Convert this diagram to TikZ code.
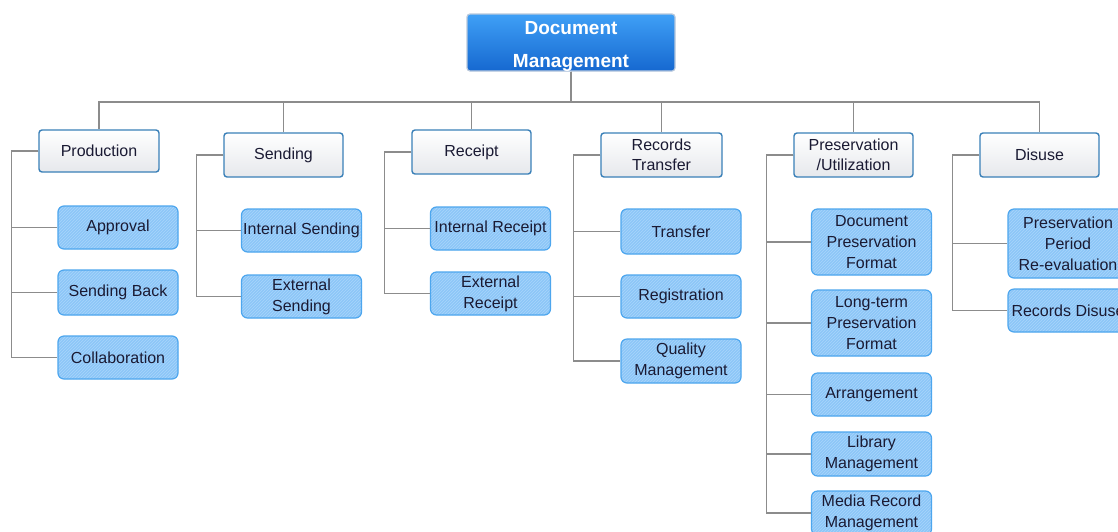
\documentclass[tikz,border=0pt]{standalone}
\usepackage{fontspec}
\setmainfont{Liberation Sans}
\usetikzlibrary{patterns}
\definecolor{rootTop}{HTML}{3FA0F6}
\definecolor{rootBot}{HTML}{1668D0}
\definecolor{rootEdge}{HTML}{B8C8DC}
\definecolor{catEdge}{HTML}{3A80B8}
\definecolor{catBot}{HTML}{E6E8EC}
\definecolor{itemFill}{HTML}{8CC6F7}
\definecolor{itemHatch}{HTML}{A9D5FB}
\definecolor{itemEdge}{HTML}{4DA6EE}
\definecolor{inkText}{HTML}{1A1A33}
\definecolor{wire}{HTML}{8C8C8C}
\tikzset{
  rootbox/.style={draw=rootEdge, line width=1.2pt, rounded corners=3pt,
    top color=rootTop, bottom color=rootBot,
    minimum width=208pt, minimum height=57pt, inner sep=0pt},
  roottext/.style={text=white, font=\fontsize{19}{33}\selectfont\bfseries,
    align=center, inner sep=0pt},
  catbox/.style={draw=catEdge, line width=1.4pt, rounded corners=3pt,
    top color=white, bottom color=catBot, text=inkText,
    font=\fontsize{16}{20}\selectfont, align=center,
    minimum width=119pt, minimum height=44pt, inner sep=0pt},
  itembox/.style={draw=itemEdge, line width=1.2pt, rounded corners=6pt,
    preaction={fill=itemFill}, pattern=north east lines, pattern color=itemHatch,
    text=inkText, font=\fontsize{16}{21}\selectfont, align=center,
    minimum width=120pt, minimum height=43pt, inner sep=0pt},
  conn/.style={draw=wire, line width=1.6pt},
}
\begin{document}
\begin{tikzpicture}[x=1pt,y=-1pt]
\useasboundingbox (0,0) rectangle (1118,531);
\clip (0,0) rectangle (1118,531);
\fill[white] (0,0) rectangle (1118,531);

% top of the tree: gradient box with its two-line title
\node[rootbox] (root) at (571,42.5) {};
\node[roottext] (roottitle) at (571,46) {Document\\Management};
\coordinate (busy) at (0,102);

% categories
\node[catbox, minimum width=120pt, minimum height=42pt] (prod) at (99,151) {Production};
\node[catbox] (send) at (283.5,155) {Sending};
\node[catbox] (rec) at (471.5,152) {Receipt};
\node[catbox, minimum width=121pt] (rt) at (661.5,155) {Records\\Transfer};
\node[catbox] (pres) at (853.5,155) {Preservation\\/Utilization};
\node[catbox] (dis) at (1039.5,155) {Disuse};

% Production items
\node[itembox] (approval) at (118,227.5) {Approval};
\node[itembox, minimum height=45pt] (sendback) at (118,292.5) {Sending Back};
\node[itembox] (collab) at (118,357.5) {Collaboration};

% Sending items
\node[itembox] (intsend) at (301.5,230.5) {Internal Sending};
\node[itembox] (extsend) at (301.5,296.5) {External\\Sending};

% Receipt items
\node[itembox] (intrec) at (490.5,228.5) {Internal Receipt};
\node[itembox] (extrec) at (490.5,293.5) {External\\Receipt};

% Records Transfer items
\node[itembox, minimum height=45pt] (transfer) at (681,231.5) {Transfer};
\node[itembox] (registration) at (681,296.5) {Registration};
\node[itembox, minimum height=44pt] (quality) at (681,361) {Quality\\Management};

% Preservation/Utilization items
\node[itembox, minimum height=66pt] (docpres) at (871.5,242) {Document\\Preservation\\Format};
\node[itembox, minimum height=66pt] (longterm) at (871.5,323) {Long-term\\Preservation\\Format};
\node[itembox] (arrange) at (871.5,394.5) {Arrangement};
\node[itembox, minimum height=44pt] (library) at (871.5,454) {Library\\Management};
\node[itembox, minimum height=44pt] (media) at (871.5,513) {Media Record\\Management};

% Disuse items
\node[itembox, minimum height=69pt] (ppr) at (1068,243.5) {Preservation\\Period\\Re-evaluation};
\node[itembox] (recdis) at (1068,310.5) {Records Disuse};

% root to categories
\foreach \c in {prod,send,rec,rt,pres,dis}
  \draw[conn] (root.south) |- (\c.north |- busy) -- (\c.north);

% category brackets to items
\foreach \p/\kids in {prod/{approval,sendback,collab},
                      send/{intsend,extsend},
                      rec/{intrec,extrec},
                      rt/{transfer,registration,quality},
                      pres/{docpres,longterm,arrange,library,media},
                      dis/{ppr,recdis}}
  \foreach \k in \kids
    \draw[conn] (\p.west) -- ++(-27,0) |- (\k.west);
\end{tikzpicture}
\end{document}
